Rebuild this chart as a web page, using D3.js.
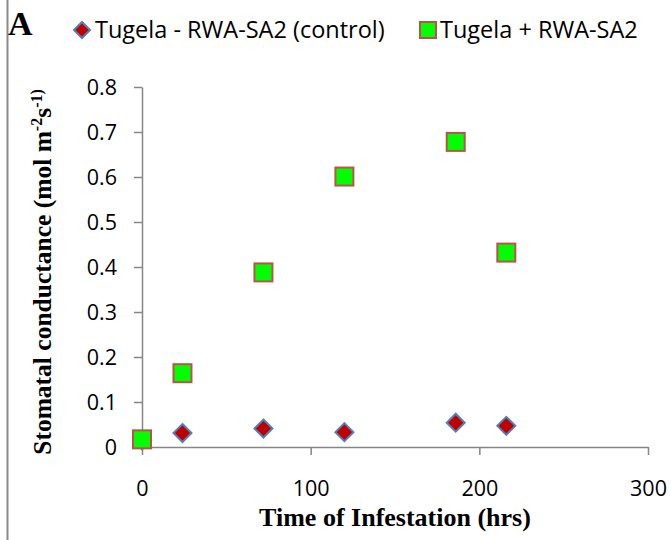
<!DOCTYPE html>
<html><head><meta charset="utf-8">
<script src="https://cdn.jsdelivr.net/npm/d3@7"></script>
<style>body{margin:0;background:#fff}svg{display:block}</style>
</head><body>
<script>
const hours = [0, 24, 72, 120, 186, 216];
const control = [0.015, 0.031, 0.041, 0.033, 0.054, 0.047];
const infested = [0.017, 0.164, 0.388, 0.601, 0.678, 0.432];
const xTicks = [0, 100, 200, 300];
const yTicks = [0, 0.1, 0.2, 0.3, 0.4, 0.5, 0.6, 0.7, 0.8];
const seriesNames = ["Tugela - RWA-SA2 (control)", "Tugela + RWA-SA2"];

const W = 671, H = 540;
const svg = d3.select("body").append("svg").attr("width", W).attr("height", H);
const x = d3.scaleLinear().domain([0, 300]).range([142, 648]);
const y = d3.scaleLinear().domain([0, 0.8]).range([447, 87]);
const axisCol = "#868686";
const sans = "'Open Sans', sans-serif";
const serif = "'Liberation Serif', serif";

// page border line
svg.append("line").attr("x1", 7.5).attr("x2", 7.5).attr("y1", 0).attr("y2", H)
  .attr("stroke", "#8a8a8a").attr("stroke-width", 2);

// axes
const xAxis = svg.append("g").attr("transform", `translate(0,${y(0)})`)
  .call(d3.axisBottom(x).tickValues(xTicks).tickSize(8).tickSizeOuter(0).tickPadding(26).tickFormat(d3.format("d")));
const yAxis = svg.append("g").attr("transform", `translate(${x(0)},0)`)
  .call(d3.axisLeft(y).tickValues(yTicks).tickSize(8).tickSizeOuter(0).tickPadding(17).tickFormat(d => d === 0 ? "0" : d3.format(".1f")(d)));
[xAxis, yAxis].forEach(g => {
  g.select(".domain").attr("stroke", axisCol).attr("stroke-width", 1.5);
  g.selectAll(".tick line").attr("stroke", axisCol).attr("stroke-width", 1.5);
  g.selectAll(".tick text").attr("fill", "#000").style("font-family", sans).style("font-size", "21.5px");
});
yAxis.selectAll(".tick text").attr("dy", "0.36em");

// markers
const diamond = (cx, cy, r) => `M${cx},${cy - r}L${cx + r},${cy}L${cx},${cy + r}L${cx - r},${cy}Z`;
svg.append("g").selectAll("path").data(hours).join("path")
  .attr("d", (d, i) => diamond(x(d), y(control[i]), 9))
  .attr("fill", "#C00000").attr("stroke", "#4F81BD").attr("stroke-width", 2);
const s = 18;
svg.append("g").selectAll("rect").data(hours).join("rect")
  .attr("x", d => x(d) - s / 2).attr("y", (d, i) => y(infested[i]) - s / 2)
  .attr("width", s).attr("height", s)
  .attr("fill", "#00FF00").attr("stroke", "#C0504D").attr("stroke-width", 2);

// panel letter
svg.append("text").attr("x", 8).attr("y", 35).text("A")
  .style("font-family", serif).style("font-weight", "bold").style("font-size", "34px");

// legend
const lg = svg.append("g").style("font-family", sans).style("font-size", "23.5px");
lg.append("path").attr("d", diamond(82, 30, 8)).attr("fill", "#C00000").attr("stroke", "#4F81BD").attr("stroke-width", 2);
lg.append("text").attr("x", 95).attr("y", 38).text(seriesNames[0]);
lg.append("rect").attr("x", 420).attr("y", 22).attr("width", 16).attr("height", 16)
  .attr("fill", "#00FF00").attr("stroke", "#C0504D").attr("stroke-width", 2);
lg.append("text").attr("x", 440).attr("y", 38).text(seriesNames[1]);

// axis titles
svg.append("text").attr("x", 395).attr("y", 526).attr("text-anchor", "middle")
  .style("font-family", serif).style("font-weight", "bold").style("font-size", "26px")
  .text("Time of Infestation (hrs)");
const yt = svg.append("text").attr("transform", "translate(51,272) rotate(-90)").attr("text-anchor", "middle")
  .style("font-family", serif).style("font-weight", "bold").style("font-size", "25.5px");
yt.append("tspan").text("Stomatal conductance (mol m");
yt.append("tspan").attr("dy", -9).style("font-size", "16px").text("-2");
yt.append("tspan").attr("dy", 9).text("s");
yt.append("tspan").attr("dy", -9).style("font-size", "16px").text("-1)");
yt.append("tspan").attr("dy", 9).text("");
</script>
</body></html>
